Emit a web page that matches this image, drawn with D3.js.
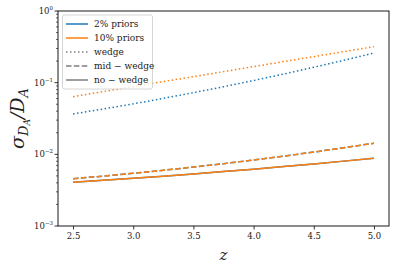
<!DOCTYPE html>
<html>
<head>
<meta charset="utf-8">
<script src="https://cdn.jsdelivr.net/npm/d3@7"></script>
<style>
  body { margin: 0; background: #fff; }
  svg text { font-family: 'DejaVu Serif', serif !important; fill: #222; }
</style>
</head>
<body>
<div id="chart"></div>
<script>
// redshift grid
var zVals = [2.5, 2.75, 3.0, 3.25, 3.5, 3.75, 4.0, 4.25, 4.5, 4.75, 5.0];

// 2% priors (blue) - mid/no-wedge sit right under the orange ones
var blueWedge   = [0.0366, 0.0429, 0.0506, 0.0603, 0.0724, 0.0877, 0.1072, 0.1318, 0.1641, 0.2051, 0.2594];
var blueMid     = [0.00458, 0.00497, 0.00544, 0.00599, 0.00664, 0.00741, 0.00834, 0.00944, 0.01076, 0.01236, 0.01429];
var blueNo      = [0.00408, 0.00434, 0.00463, 0.00495, 0.00532, 0.00574, 0.00621, 0.00675, 0.00735, 0.00804, 0.00883];

// 10% priors (orange)
var orangeWedge = [0.0638, 0.0750, 0.0881, 0.1035, 0.1213, 0.1426, 0.1675, 0.1968, 0.2307, 0.2710, 0.318];
var orangeMid   = [0.00458, 0.00497, 0.00544, 0.00599, 0.00664, 0.00741, 0.00834, 0.00944, 0.01076, 0.01236, 0.01429];
var orangeNo    = [0.00408, 0.00434, 0.00463, 0.00495, 0.00532, 0.00574, 0.00621, 0.00675, 0.00735, 0.00804, 0.00883];

var xTicks = [2.5, 3.0, 3.5, 4.0, 4.5, 5.0];
var yTickExps = [0, -1, -2, -3];
var legendLabels = ["2% priors", "10% priors", "wedge", "mid \u2212 wedge", "no \u2212 wedge"];

var blue = "#1f77b4", orange = "#ff7f0e", grey = "#7f7f7f";

var width = 400, height = 271;
var margin = {left: 58, right: 11, top: 11, bottom: 45};

var svg = d3.select("#chart").append("svg")
    .attr("width", width)
    .attr("height", height);

// scales
var x = d3.scaleLinear()
    .domain([2.375, 5.125])
    .range([margin.left, width - margin.right]);

var y = d3.scaleLog()
    .domain([1e-3, 1])
    .range([height - margin.bottom, margin.top]);

// lines
var line = d3.line()
    .x(function(d) { return x(d[0]); })
    .y(function(d) { return y(d[1]); });

var series = [
    {vals: blueWedge,   color: blue,   dash: "1.5,2.5"},
    {vals: blueMid,     color: blue,   dash: "5.5,2.4"},
    {vals: blueNo,      color: blue,   dash: null},
    {vals: orangeWedge, color: orange, dash: "1.5,2.5"},
    {vals: orangeMid,   color: orange, dash: "5.5,2.4"},
    {vals: orangeNo,    color: orange, dash: null}
];

series.forEach(function(s) {
    svg.append("path")
        .datum(zVals.map(function(z, i) { return [z, s.vals[i]]; }))
        .attr("d", line)
        .attr("fill", "none")
        .attr("stroke", s.color)
        .attr("stroke-width", 1.5)
        .attr("stroke-dasharray", s.dash);
});

// frame
svg.append("rect")
    .attr("x", margin.left)
    .attr("y", margin.top)
    .attr("width", width - margin.right - margin.left)
    .attr("height", height - margin.bottom - margin.top)
    .attr("fill", "none")
    .attr("stroke", "#000")
    .attr("stroke-width", 0.9);

// x axis
var xAxis = svg.append("g")
    .attr("transform", "translate(0," + (height - margin.bottom) + ")")
    .call(d3.axisBottom(x).tickValues(xTicks).tickFormat(d3.format(".1f")).tickSize(3.5).tickPadding(3));
xAxis.select(".domain").remove();
xAxis.selectAll("line").attr("stroke", "#000").attr("stroke-width", 0.8);
xAxis.selectAll("text")
    .style("font-size", "8.5px")
    .attr("fill", "#222");

// y axis major ticks
var yAxis = svg.append("g")
    .attr("transform", "translate(" + margin.left + ",0)");

yTickExps.forEach(function(e) {
    var yy = y(Math.pow(10, e));
    yAxis.append("line")
        .attr("x1", -3.5).attr("x2", 0)
        .attr("y1", yy).attr("y2", yy)
        .attr("stroke", "#000").attr("stroke-width", 0.8);
    var t = yAxis.append("text")
        .attr("x", -5)
        .attr("y", yy + 3)
        .attr("text-anchor", "end")
        .style("font-size", "8.5px");
    t.append("tspan").text("10");
    t.append("tspan")
        .attr("dy", -4)
        .style("font-size", "5.5px")
        .text(e === 0 ? "0" : "\u2212" + (-e));
});

// y minor ticks
[-3, -2, -1].forEach(function(e) {
    for (var m = 2; m <= 9; m++) {
        var yy = y(m * Math.pow(10, e));
        yAxis.append("line")
            .attr("x1", -2).attr("x2", 0)
            .attr("y1", yy).attr("y2", yy)
            .attr("stroke", "#000").attr("stroke-width", 0.6);
    }
});

// axis labels
svg.append("text")
    .attr("x", (margin.left + width - margin.right) / 2)
    .attr("y", 260)
    .attr("text-anchor", "middle")
    .style("font-style", "italic")
    .style("font-size", "15px")
    .text("z");

var yl = svg.append("text")
    .attr("transform", "translate(24," + ((margin.top + height - margin.bottom) / 2) + ") rotate(-90)")
    .attr("text-anchor", "middle")
    .style("font-style", "italic")
    .style("font-size", "19px");
yl.append("tspan").text("\u03c3");
yl.append("tspan").attr("dy", 4).style("font-size", "13px").text("D");
yl.append("tspan").attr("dy", 2).style("font-size", "9px").text("A");
yl.append("tspan").attr("dy", -6).text("/D");
yl.append("tspan").attr("dy", 4).style("font-size", "13px").text("A");

// legend
var legend = svg.append("g");
legend.append("rect")
    .attr("x", 62.5).attr("y", 15)
    .attr("width", 90).attr("height", 74)
    .attr("rx", 2)
    .attr("fill", "#fff").attr("fill-opacity", 0.8)
    .attr("stroke", "#ccc").attr("stroke-width", 0.8);

var legendStyles = [
    {color: blue,   dash: null},
    {color: orange, dash: null},
    {color: grey,   dash: "1.5,2.5"},
    {color: grey,   dash: "5.5,2.4"},
    {color: grey,   dash: null}
];

legendLabels.forEach(function(lab, i) {
    var ly = 24 + i * 14;
    legend.append("line")
        .attr("x1", 66).attr("x2", 88)
        .attr("y1", ly).attr("y2", ly)
        .attr("stroke", legendStyles[i].color)
        .attr("stroke-width", 1.5)
        .attr("stroke-dasharray", legendStyles[i].dash);
    legend.append("text")
        .attr("x", 94)
        .attr("y", ly + 3.2)
        .style("font-size", "9px")
        .text(lab);
});
</script>
</body>
</html>
